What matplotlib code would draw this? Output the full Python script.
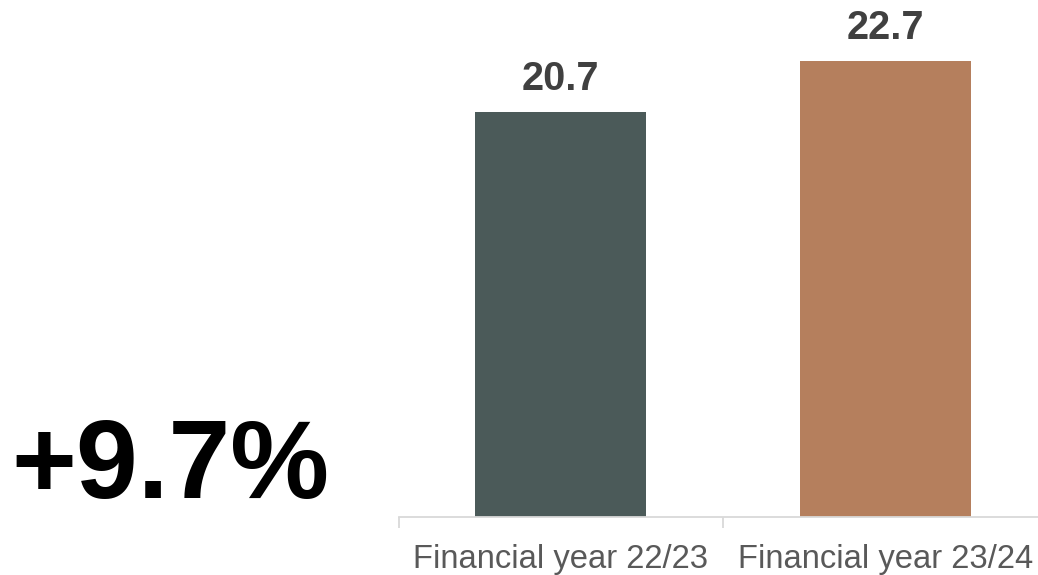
import matplotlib
matplotlib.use("Agg")
import matplotlib.pyplot as plt

# Data
categories = ["Financial year 22/23", "Financial year 23/24"]
values = [20.7, 22.7]
value_labels = ["20.7", "22.7"]
change_label = "+9.7%"

bar_colors = ["#4B5A59", "#B57F5D"]
axis_color = "#D9D9D9"

plt.rcParams["font.family"] = ["Liberation Sans", "DejaVu Sans"]

W, H, DPI = 1038, 575, 100
fig = plt.figure(figsize=(W / DPI, H / DPI), dpi=DPI)

# Axes placed in pixel units (the right band runs past the canvas edge)
left_px, base_px, band_px = 398.5, 516.7, 324.5
ax = fig.add_axes([left_px / W, (H - base_px) / H, 2 * band_px / W, base_px / H])

y_min = 4.83
px_per_unit = 25.5
ax.set_xlim(-0.5, 1.5)
ax.set_ylim(y_min, y_min + base_px / px_per_unit)

x = list(range(len(categories)))
ax.bar(x, values, width=0.527, color=bar_colors, zorder=2)

for xi, v, lab in zip(x, values, value_labels):
    ax.annotate(lab, (xi, v), xytext=(0, 15.5), textcoords="offset points",
                ha="center", va="baseline", fontsize=28.5,
                fontweight="bold", color="#404040")

# Axis styling
for side in ("top", "right", "left"):
    ax.spines[side].set_visible(False)
ax.spines["bottom"].set_color(axis_color)
ax.spines["bottom"].set_linewidth(1.3)
ax.spines["bottom"].set_clip_on(False)
ax.set_yticks([])

ax.set_xticks(x)
ax.set_xticklabels(categories, fontsize=23.6, color="#595959")
ax.tick_params(axis="x", which="major", length=0, pad=19.5)
ax.set_xticks([-0.5, 0.5, 1.5], minor=True)
ax.tick_params(axis="x", which="minor", length=8, width=1.3, color=axis_color)

fig.text(11 / W, (H - 498) / H, change_label, fontsize=80,
         fontweight="bold", color="black", ha="left", va="baseline")

fig.savefig("out.png", dpi=DPI)
